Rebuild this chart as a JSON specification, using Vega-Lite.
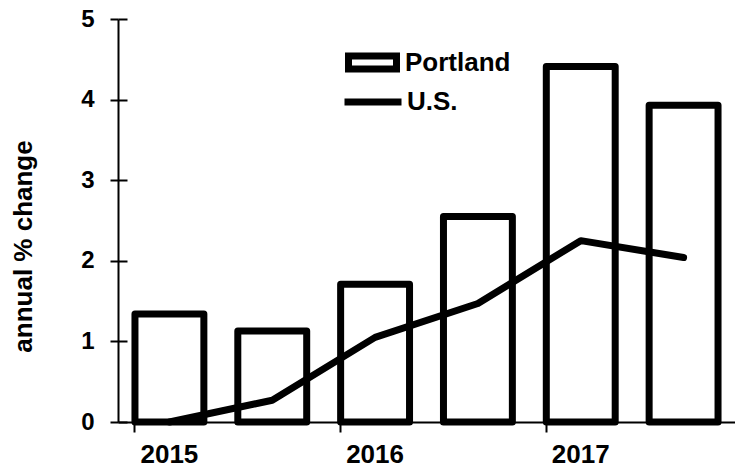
{
  "$schema": "https://vega.github.io/schema/vega-lite/v6.json",
  "width": 617,
  "height": 403,
  "autosize": {"type": "none"},
  "padding": {"left": 118, "top": 19, "right": 0, "bottom": 46},
  "background": "white",
  "data": {
    "values": [
      {"period": "2015 H1", "portland": 1.34, "us": 0.0},
      {"period": "2015 H2", "portland": 1.13, "us": 0.27},
      {"period": "2016 H1", "portland": 1.71, "us": 1.05},
      {"period": "2016 H2", "portland": 2.55, "us": 1.47},
      {"period": "2017 H1", "portland": 4.41, "us": 2.25},
      {"period": "2017 H2", "portland": 3.93, "us": 2.04}
    ]
  },
  "encoding": {
    "x": {
      "field": "period",
      "type": "nominal",
      "sort": null,
      "title": null,
      "scale": {"paddingInner": 0.33, "paddingOuter": 0.165},
      "axis": {
        "values": ["2015 H1", "2016 H1", "2017 H1"],
        "labelExpr": "slice(datum.value, 0, 4)",
        "labelAngle": 0,
        "bandPosition": 0,
        "tickSize": 10,
        "tickWidth": 2,
        "tickColor": "black",
        "domainColor": "black",
        "domainWidth": 2,
        "labelFontSize": 26,
        "labelFont": "Liberation Sans",
        "labelFontWeight": "bold",
        "labelColor": "black",
        "labelPadding": 9,
        "grid": true,
        "gridColor": "black",
        "gridWidth": 2,
        "gridOpacity": 1,
        "gridDash": [0, 396, 7, 2000]
      }
    }
  },
  "layer": [
    {
      "mark": {"type": "bar", "fill": "white", "strokeWidth": 7, "strokeJoin": "round"},
      "encoding": {
        "y": {
          "field": "portland",
          "type": "quantitative",
          "title": "annual % change",
          "scale": {"domain": [0, 5], "nice": false},
          "axis": {
            "values": [0, 1, 2, 3, 4, 5],
            "format": "d",
            "tickSize": 8,
            "tickWidth": 2,
            "tickColor": "black",
            "domainColor": "black",
            "domainWidth": 2,
            "labelFontSize": 24,
            "labelFont": "Liberation Sans",
            "labelFontWeight": "bold",
            "labelColor": "black",
            "labelPadding": 16,
            "grid": true,
            "gridColor": "black",
            "gridWidth": 2,
            "gridOpacity": 1,
            "gridDash": [9, 2000],
            "titleFontSize": 26,
            "titleFont": "Liberation Sans",
            "titleFontWeight": "bold",
            "titleColor": "black",
            "titleAngle": 270,
            "titleAlign": "center",
            "titleBaseline": "alphabetic",
            "titleX": -87,
            "titleY": 227
          }
        },
        "stroke": {
          "datum": "Portland",
          "scale": {"range": ["black"]},
          "legend": {
            "title": null,
            "orient": "none",
            "legendX": 227,
            "legendY": 16,
            "padding": 0,
            "symbolType": "M-1,-0.27H1V0.27H-1Z",
            "symbolSize": 2304,
            "symbolStrokeWidth": 7,
            "symbolFillColor": "white",
            "symbolStrokeColor": "black",
            "labelFontSize": 26,
            "labelFont": "Liberation Sans",
            "labelFontWeight": "bold",
            "labelColor": "black",
            "labelOffset": 5
          }
        }
      }
    },
    {
      "mark": {"type": "line", "strokeWidth": 7, "strokeCap": "round", "strokeJoin": "round"},
      "encoding": {
        "y": {"field": "us", "type": "quantitative", "title": "annual % change"},
        "stroke": {
          "datum": "U.S.",
          "scale": {"range": ["black"]},
          "legend": {
            "title": null,
            "orient": "none",
            "legendX": 223,
            "legendY": 51,
            "padding": 0,
            "symbolType": "stroke",
            "symbolSize": 3249,
            "symbolStrokeWidth": 7,
            "symbolStrokeColor": "black",
            "labelFontSize": 26,
            "labelFont": "Liberation Sans",
            "labelFontWeight": "bold",
            "labelColor": "black",
            "labelOffset": 2
          }
        }
      }
    }
  ],
  "resolve": {"scale": {"stroke": "independent"}},
  "config": {"view": {"stroke": null}}
}
